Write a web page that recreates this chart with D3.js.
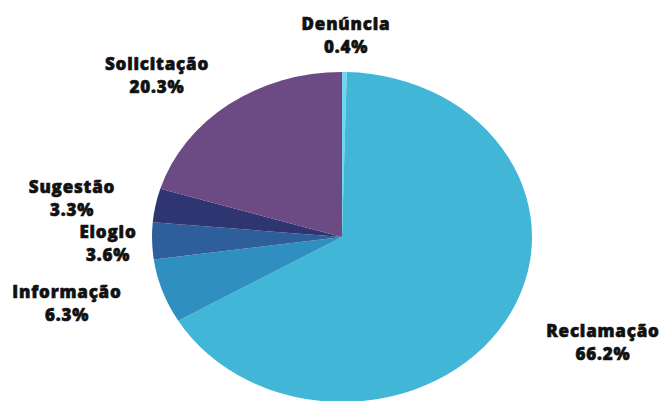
<!DOCTYPE html>
<html>
<head>
<meta charset="utf-8">
<script src="https://cdn.jsdelivr.net/npm/d3@7"></script>
<style>
  html, body { margin: 0; padding: 0; background: #ffffff; }
  svg { display: block; }
  text { font-family: "Open Sans", "DejaVu Sans", sans-serif; font-weight: 800; fill: #111111; stroke: #111111; stroke-width: 0.6px; letter-spacing: 0.8px; }
</style>
</head>
<body>
<svg id="chart" width="663" height="401"></svg>
<script>
// Manifestações por tipo (percentual)
const categories = ["Denúncia", "Reclamação", "Informação", "Elogio", "Sugestão", "Solicitação"];
const values = [0.4, 66.2, 6.3, 3.6, 3.3, 20.3];
const valueLabels = ["0.4%", "66.2%", "6.3%", "3.6%", "3.3%", "20.3%"];
const colors = ["#6fd6ec", "#42b6d7", "#2f8fc0", "#2e5f9b", "#2f3570", "#6c4a83"];

// Label anchor points (centre x, first-line baseline y)
const labelPos = [[346, 30], [603, 337], [67, 298], [108, 238], [72, 193], [157, 70]];

const svg = d3.select("#chart");

// Pie is drawn slightly wider than tall
const cx = 342, cy = 237, r = 165, sx = 190 / 165;

const pie = d3.pie().sort(null).value(d => d.v);
const arc = d3.arc().innerRadius(0).outerRadius(r);

const data = categories.map((c, i) => ({ c, v: values[i], col: colors[i], lab: valueLabels[i], pos: labelPos[i] }));

svg.append("g")
  .attr("transform", `translate(${cx},${cy}) scale(${sx},1)`)
  .selectAll("path")
  .data(pie(data))
  .join("path")
  .attr("d", arc)
  .attr("fill", d => d.data.col);

const lab = svg.append("g").selectAll("text")
  .data(data)
  .join("text")
  .attr("text-anchor", "middle")
  .attr("font-size", 17)
  .attr("x", d => d.pos[0])
  .attr("y", d => d.pos[1]);

lab.append("tspan").attr("x", d => d.pos[0]).text(d => d.c);
lab.append("tspan").attr("x", d => d.pos[0]).attr("dy", 22.5).text(d => d.lab);
</script>
</body>
</html>
